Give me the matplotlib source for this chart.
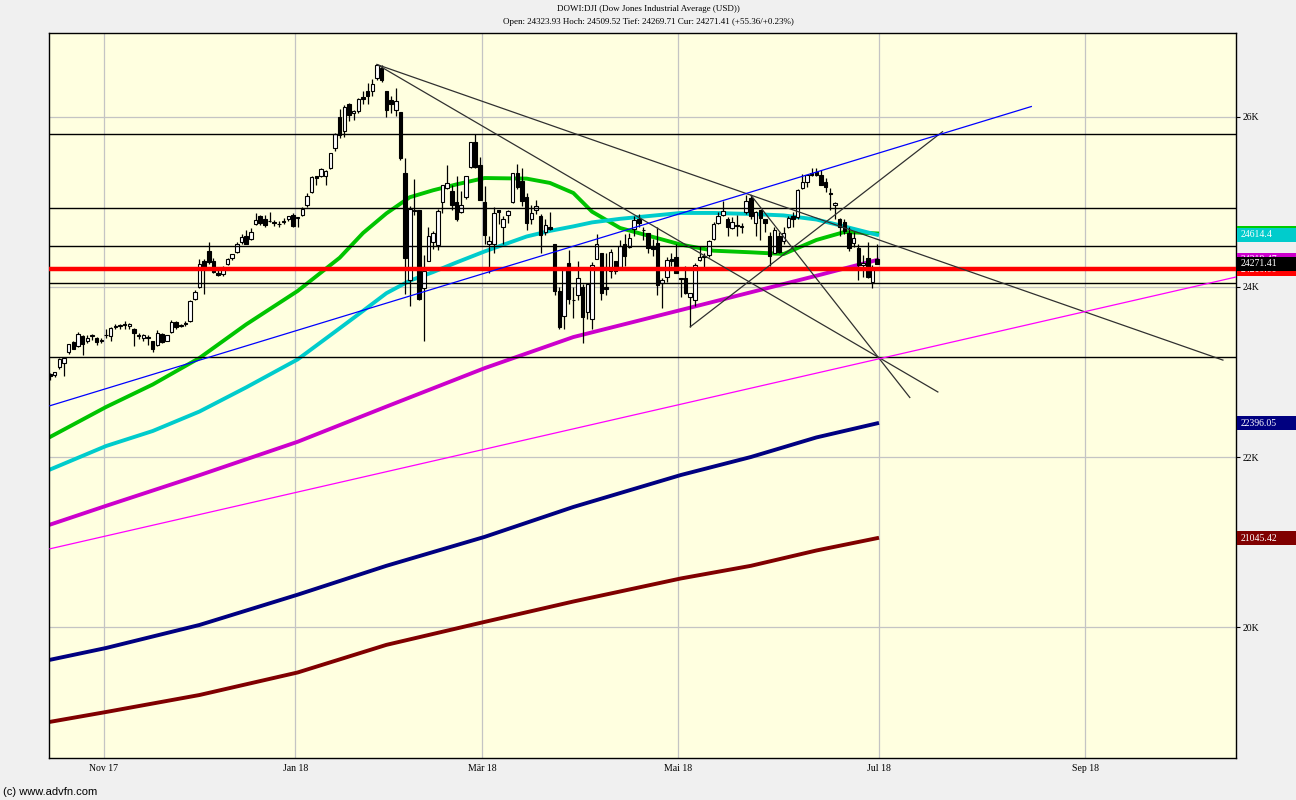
import matplotlib
matplotlib.use('Agg')
import matplotlib.pyplot as plt
import matplotlib.transforms as mtransforms
from matplotlib.patches import Rectangle
import numpy as np
import pandas as pd

# daily bars, Dow Jones Industrial Average
dates = [
    # Oct 2017
    '2017-10-16', '2017-10-17', '2017-10-18', '2017-10-19', '2017-10-20', '2017-10-23', '2017-10-24',
    '2017-10-25', '2017-10-26', '2017-10-27', '2017-10-30', '2017-10-31',
    # Nov
    '2017-11-01', '2017-11-02', '2017-11-03', '2017-11-06', '2017-11-07', '2017-11-08', '2017-11-09',
    '2017-11-10', '2017-11-13', '2017-11-14', '2017-11-15', '2017-11-16', '2017-11-17', '2017-11-20',
    '2017-11-21', '2017-11-22', '2017-11-24', '2017-11-27', '2017-11-28', '2017-11-29', '2017-11-30',
    # Dec
    '2017-12-01', '2017-12-04', '2017-12-05', '2017-12-06', '2017-12-07', '2017-12-08', '2017-12-11',
    '2017-12-12', '2017-12-13', '2017-12-14', '2017-12-15', '2017-12-18', '2017-12-19', '2017-12-20',
    '2017-12-21', '2017-12-22', '2017-12-26', '2017-12-27', '2017-12-28', '2017-12-29',
    # Jan 2018
    '2018-01-02', '2018-01-03', '2018-01-04', '2018-01-05', '2018-01-08', '2018-01-09', '2018-01-10',
    '2018-01-11', '2018-01-12', '2018-01-16', '2018-01-17', '2018-01-18', '2018-01-19', '2018-01-22',
    '2018-01-23', '2018-01-24', '2018-01-25', '2018-01-26', '2018-01-29', '2018-01-30', '2018-01-31',
    # Feb
    '2018-02-01', '2018-02-02', '2018-02-05', '2018-02-06', '2018-02-07', '2018-02-08', '2018-02-09',
    '2018-02-12', '2018-02-13', '2018-02-14', '2018-02-15', '2018-02-16', '2018-02-20', '2018-02-21',
    '2018-02-22', '2018-02-23', '2018-02-26', '2018-02-27', '2018-02-28',
    # Mar
    '2018-03-01', '2018-03-02', '2018-03-05', '2018-03-06', '2018-03-07', '2018-03-08', '2018-03-09',
    '2018-03-12', '2018-03-13', '2018-03-14', '2018-03-15', '2018-03-16', '2018-03-19', '2018-03-20',
    '2018-03-21', '2018-03-22', '2018-03-23', '2018-03-26', '2018-03-27', '2018-03-28', '2018-03-29',
    # Apr
    '2018-04-02', '2018-04-03', '2018-04-04', '2018-04-05', '2018-04-06', '2018-04-09', '2018-04-10',
    '2018-04-11', '2018-04-12', '2018-04-13', '2018-04-16', '2018-04-17', '2018-04-18', '2018-04-19',
    '2018-04-20', '2018-04-23', '2018-04-24', '2018-04-25', '2018-04-26', '2018-04-27', '2018-04-30',
    # May
    '2018-05-01', '2018-05-02', '2018-05-03', '2018-05-04', '2018-05-07', '2018-05-08', '2018-05-09',
    '2018-05-10', '2018-05-11', '2018-05-14', '2018-05-15', '2018-05-16', '2018-05-17', '2018-05-18',
    '2018-05-21', '2018-05-22', '2018-05-23', '2018-05-24', '2018-05-25', '2018-05-29', '2018-05-30',
    '2018-05-31',
    # Jun
    '2018-06-01', '2018-06-04', '2018-06-05', '2018-06-06', '2018-06-07', '2018-06-08', '2018-06-11',
    '2018-06-12', '2018-06-13', '2018-06-14', '2018-06-15', '2018-06-18', '2018-06-19', '2018-06-20',
    '2018-06-21', '2018-06-22', '2018-06-25', '2018-06-26', '2018-06-27', '2018-06-28', '2018-06-29',
]

opens = [
    22975, 22960, 23060, 23100, 23233, 23350, 23300, 23420, 23360, 23420, 23400, 23370,
    23430, 23420, 23530, 23540, 23560, 23540, 23500, 23440, 23400, 23400, 23360, 23320, 23450, 23370,
    23470, 23590, 23540, 23560, 23600, 23860, 24000,
    24300, 24420, 24310, 24170, 24150, 24270, 24340, 24410, 24530, 24600, 24570, 24740, 24830, 24800,
    24780, 24760, 24740, 24760, 24800, 24850,
    24810, 24850, 24960, 25115, 25300, 25310, 25300, 25400, 25640, 26000, 25840, 26150, 26050, 26070,
    26240, 26300, 26300, 26460, 26580, 26300, 26200,
    26080, 26060, 25340, 24085, 24900, 24900, 23990, 24300, 24530, 24490, 25000, 25160, 25130, 25000,
    24880, 25060, 25410, 25700, 25440,
    25000, 24500, 24500, 24900, 24700, 24850, 25000, 25340, 25250, 25060, 24800, 24900, 24840, 24650,
    24700, 24500, 23950, 23660, 24280, 23850, 23900,
    24000, 23700, 23620, 24330, 24400, 24000, 24190, 24300, 24230, 24500, 24470, 24680, 24800, 24670,
    24630, 24480, 24520, 24050, 24120, 24330, 24350,
    24100, 24100, 23880, 23850, 24320, 24350, 24380, 24560, 24750, 24850, 24800, 24690, 24730, 24710,
    24880, 25050, 24750, 24900, 24800, 24600, 24400, 24600,
    24540, 24700, 24840, 24820, 25160, 25230, 25340, 25350, 25320, 25240, 25100, 24960, 24800, 24760,
    24640, 24520, 24460, 24260, 24340, 24060, 24323.93,
]

highs = [
    22990, 23002, 23169, 23170, 23329, 23368, 23474, 23440, 23430, 23450, 23410, 23400,
    23500, 23530, 23560, 23560, 23600, 23575, 23520, 23460, 23450, 23430, 23370, 23490, 23460, 23440,
    23610, 23600, 23560, 23600, 23850, 23970, 24330,
    24330, 24535, 24340, 24210, 24250, 24340, 24390, 24530, 24620, 24670, 24690, 24876, 24850, 24850,
    24880, 24790, 24780, 24810, 24840, 24870,
    24825, 24940, 25105, 25300, 25310, 25400, 25380, 25580, 25810, 26090, 26140, 26160, 26080, 26220,
    26300, 26400, 26450, 26617, 26610, 26310, 26250,
    26340, 26060, 25520, 24950, 25270, 24900, 24380, 24700, 24660, 24920, 25200, 25430, 25200, 25300,
    25130, 25310, 25710, 25800, 25530,
    25190, 24600, 24940, 24900, 24840, 24910, 25340, 25450, 25400, 25100, 24970, 25020, 24860, 24800,
    24880, 24500, 24000, 24230, 24430, 24000, 24300,
    24040, 24050, 24290, 24620, 24400, 24400, 24450, 24300, 24550, 24620, 24640, 24830, 24860, 24700,
    24630, 24570, 24700, 24100, 24350, 24400, 24510,
    24110, 24250, 23930, 24280, 24480, 24400, 24550, 24760, 24880, 25010, 24820, 24820, 24850, 24750,
    25086, 25080, 24890, 24900, 24800, 24650, 24700, 24650,
    24700, 24840, 24880, 25150, 25330, 25320, 25400, 25400, 25380, 25280, 25160, 25000, 24810, 24800,
    24700, 24650, 24500, 24380, 24530, 24260, 24509.52,
]

lows = [
    22900, 22940, 23040, 22950, 23210, 23270, 23290, 23200, 23340, 23380, 23320, 23340,
    23400, 23370, 23500, 23510, 23500, 23510, 23300, 23390, 23370, 23320, 23240, 23310, 23340, 23360,
    23460, 23510, 23530, 23540, 23590, 23850, 23990,
    23920, 24270, 24170, 24130, 24130, 24260, 24320, 24400, 24500, 24500, 24550, 24730, 24730, 24700,
    24770, 24720, 24710, 24740, 24780, 24710,
    24700, 24830, 24940, 25100, 25200, 25290, 25200, 25390, 25600, 25750, 25770, 25950, 25970, 26050,
    26150, 26150, 26250, 26430, 26410, 26000, 26050,
    26010, 25490, 23923, 23778, 24850, 23849, 23360, 24300, 24450, 24430, 24870, 25150, 24900, 24780,
    24870, 25040, 25400, 25400, 25030,
    24500, 24160, 24400, 24740, 24500, 24750, 24990, 25150, 24950, 24670, 24740, 24860, 24400, 24610,
    24670, 23900, 23510, 23510, 23800, 23640, 23850,
    23344, 23620, 23500, 24330, 23850, 23900, 24110, 24150, 24230, 24250, 24460, 24600, 24700, 24550,
    24400, 24370, 23900, 23750, 24060, 24250, 24160,
    23880, 23920, 23531, 23780, 24300, 24200, 24350, 24550, 24740, 24840, 24600, 24680, 24600, 24630,
    24860, 24800, 24600, 24550, 24650, 24250, 24400, 24400,
    24500, 24690, 24700, 24800, 25150, 25180, 25310, 25300, 25200, 25120, 24900, 24800, 24600, 24620,
    24420, 24470, 24080, 24120, 24100, 23990, 24269.71,
]

closes = [
    22957, 22997, 23158, 23163, 23329, 23274, 23442, 23329, 23401, 23434, 23349, 23377,
    23435, 23516, 23539, 23548, 23557, 23563, 23462, 23422, 23440, 23409, 23271, 23458, 23358, 23430,
    23591, 23526, 23558, 23581, 23837, 23941, 24272,
    24232, 24290, 24181, 24141, 24211, 24329, 24386, 24505, 24585, 24509, 24652, 24792, 24755, 24727,
    24782, 24754, 24746, 24774, 24838, 24719,
    24824, 24923, 25075, 25296, 25283, 25386, 25369, 25575, 25803, 25793, 26116, 26018, 26072, 26215,
    26211, 26252, 26393, 26617, 26439, 26077, 26149,
    26187, 25521, 24346, 24913, 24893, 23860, 24191, 24601, 24640, 24893, 25200, 25219, 24965, 24798,
    24962, 25310, 25709, 25410, 25029,
    24609, 24538, 24875, 24884, 24801, 24895, 25336, 25179, 25007, 24758, 24874, 24947, 24611, 24727,
    24682, 23958, 23533, 24203, 23858, 23848, 24103,
    23644, 24033, 24264, 24505, 23933, 23979, 24408, 24189, 24483, 24360, 24573, 24787, 24748, 24665,
    24463, 24449, 24024, 24084, 24322, 24311, 24163,
    24099, 23925, 23930, 24263, 24357, 24360, 24543, 24740, 24831, 24899, 24706, 24769, 24714, 24715,
    25013, 24834, 24887, 24812, 24753, 24361, 24668, 24416,
    24635, 24814, 24800, 25146, 25241, 25317, 25322, 25321, 25201, 25175, 25090, 24987, 24700, 24658,
    24462, 24581, 24253, 24283, 24118, 24216, 24271.41,
]

# moving averages
ma_dates = ['2017-10-16', '2017-11-01', '2017-11-15', '2017-11-30', '2017-12-14', '2018-01-02',
            '2018-01-16', '2018-01-23', '2018-01-30', '2018-02-06', '2018-02-13', '2018-02-21',
            '2018-03-01', '2018-03-14', '2018-03-21', '2018-03-28', '2018-04-04', '2018-04-12',
            '2018-05-01', '2018-05-10', '2018-05-22', '2018-06-01', '2018-06-12', '2018-06-20',
            '2018-06-29']
ma_green = [22235, 22588, 22853, 23165, 23560, 23953, 24344, 24635, 24866, 25056, 25138, 25207,
            25282, 25275, 25224, 25106, 24886, 24694, 24499, 24427, 24408, 24388, 24553, 24647, 24630]
ma_cyan = [21852, 22129, 22306, 22535, 22819, 23148, 23514, 23719, 23927, 24074, 24176, 24289,
           24418, 24594, 24660, 24713, 24760, 24802, 24871, 24871, 24859, 24842, 24794, 24712, 24614.4]

slow_dates = ['2017-10-16', '2017-11-01', '2017-11-30', '2018-01-02', '2018-01-30', '2018-03-01',
              '2018-03-28', '2018-05-01', '2018-05-22', '2018-06-12', '2018-06-29']
ma_magenta = [21204, 21425, 21786, 22179, 22593, 23045, 23411, 23729, 23938, 24132, 24318]
ma_navy = [19614, 19753, 20024, 20380, 20720, 21060, 21412, 21788, 22000, 22230, 22396.05]
ma_darkred = [18884, 19000, 19200, 19465, 19790, 20060, 20300, 20571, 20720, 20900, 21045.42]

# drawn lines
hlevels = [25796, 24926, 24482, 24044, 23176]
red_level = 24210
trend_from = [('2018-01-26', 26617), ('2018-01-26', 26617), ('2018-05-22', 25080),
              ('2018-05-03', 23531), ('2017-10-16', 22603), ('2017-10-16', 20920)]
trend_to = [('2018-10-15', 23140), ('2018-07-19', 22765), ('2018-07-11', 22700),
            ('2018-07-20', 25827), ('2018-08-16', 26123), ('2018-10-18', 24120)]
trend_colors = ['#303030', '#303030', '#303030', '#303030', '#0000FF', '#FF00FF']

# price tags at the right edge (value, text, colour), drawn in this order
tag_values = [24640, 24614.4, 24318, 24210, 24271.41, 22396.05, 21045.42]
tag_texts = ['', '24614.4', '24318.47', '24210.00', '24271.41', '22396.05', '21045.42']
tag_colors = ['#00CC00', '#00CCCC', '#CC00CC', '#FF0000', '#000000', '#000080', '#800000']

tick_months = ['2017-11', '2018-01', '2018-03', '2018-05', '2018-07', '2018-09']
tick_labels = ['Nov 17', 'Jan 18', 'Mär 18', 'Mai 18', 'Jul 18', 'Sep 18']

serif = 'Liberation Serif'

# trading-day axis, extended into the future
future = pd.bdate_range('2018-07-02', '2018-10-31')
future = future[~future.isin(pd.to_datetime(['2018-07-04', '2018-09-03']))]
axis_dates = list(pd.to_datetime(dates)) + list(future)
pos = {d.strftime('%Y-%m-%d'): i for i, d in enumerate(axis_dates)}

fig = plt.figure(figsize=(12.96, 8), dpi=100, facecolor='#F0F0F0')
ax = fig.add_axes([49 / 1296, 42 / 800, 1187 / 1296, 725 / 800])
ax.set_facecolor('#FFFFE0')
ax.set_xlim(-0.2, 253.8)
ax.set_ylim(18459, 26988)

# grid
ax.set_yticks([20000, 22000, 24000, 26000])
ax.set_yticklabels(['20K', '22K', '24K', '26K'])
tpos = []
for m in tick_months:
    first = min(i for d, i in pos.items() if d.startswith(m))
    tpos.append(first - 0.5)
ax.set_xticks(tpos)
ax.set_xticklabels(tick_labels)
ax.grid(True, color='#C4C4C4', lw=0.9, zorder=0)
ax.set_axisbelow(True)
ax.yaxis.tick_right()
ax.tick_params(axis='y', length=3, width=0.8, labelsize=7, pad=2)
ax.tick_params(axis='x', length=0, labelsize=7, pad=4)
for lab in ax.get_xticklabels() + ax.get_yticklabels():
    lab.set_family(serif)
for s in ax.spines.values():
    s.set_linewidth(1.0)

# moving averages
ax.plot([pos[d] for d in slow_dates], ma_darkred, color='#800000', lw=2.8, zorder=2)
ax.plot([pos[d] for d in slow_dates], ma_navy, color='#000080', lw=2.8, zorder=2)
ax.plot([pos[d] for d in slow_dates], ma_magenta, color='#CC00CC', lw=2.8, zorder=2)
ax.plot([pos[d] for d in ma_dates], ma_green, color='#00C400', lw=2.8, zorder=2)
ax.plot([pos[d] for d in ma_dates], ma_cyan, color='#00CCCC', lw=2.8, zorder=2)

# candles
x = np.array([pos[d] for d in dates])
o = np.array(opens, float)
h = np.array(highs, float)
l = np.array(lows, float)
c = np.array(closes, float)
up = c >= o
ax.vlines(x, l, h, color='black', lw=0.9, zorder=3)
ax.bar(x[up], (c - o)[up], bottom=o[up], width=0.75, facecolor='white', edgecolor='black', lw=0.8, zorder=4)
ax.bar(x[~up], (o - c)[~up], bottom=c[~up], width=0.75, facecolor='black', edgecolor='black', lw=0.8, zorder=4)

# horizontal lines and trend lines
for lev in hlevels:
    ax.axhline(lev, color='black', lw=1.0, zorder=5)
ax.axhline(red_level, color='#FF0000', lw=3.2, zorder=5)
for (d0, p0), (d1, p1), col in zip(trend_from, trend_to, trend_colors):
    ax.plot([pos[d0], pos[d1]], [p0, p1], color=col, lw=0.9, zorder=6)

# price tags on the right, each one above the previous
trans = mtransforms.blended_transform_factory(ax.transAxes, ax.transData)
box_h = 14 * (26988 - 18459) / 725
for k, (val, text, col) in enumerate(zip(tag_values, tag_texts, tag_colors)):
    z = 10 + 2 * k
    ax.add_patch(Rectangle((1.0008, val - box_h / 2), 0.06, box_h, transform=trans,
                           facecolor=col, edgecolor='none', clip_on=False, zorder=z))
    if text:
        ax.text(1.0035, val, text, transform=trans, color='white', fontsize=7, family=serif,
                ha='left', va='center', clip_on=False, zorder=z + 1)

fig.text(0.5, 1 - 9 / 800, 'DOWI:DJI (Dow Jones Industrial Average (USD))', ha='center', va='center',
         fontsize=6.5, family=serif)
fig.text(0.5, 1 - 22 / 800,
         'Open: 24323.93 Hoch: 24509.52 Tief: 24269.71 Cur: 24271.41 (+55.36/+0.23%)',
         ha='center', va='center', fontsize=6.5, family=serif)
fig.text(3 / 1296, 1 - 792 / 800, '(c) www.advfn.com', ha='left', va='center', fontsize=8,
         family='Liberation Sans')

fig.savefig('out.png', dpi=100, facecolor=fig.get_facecolor())
